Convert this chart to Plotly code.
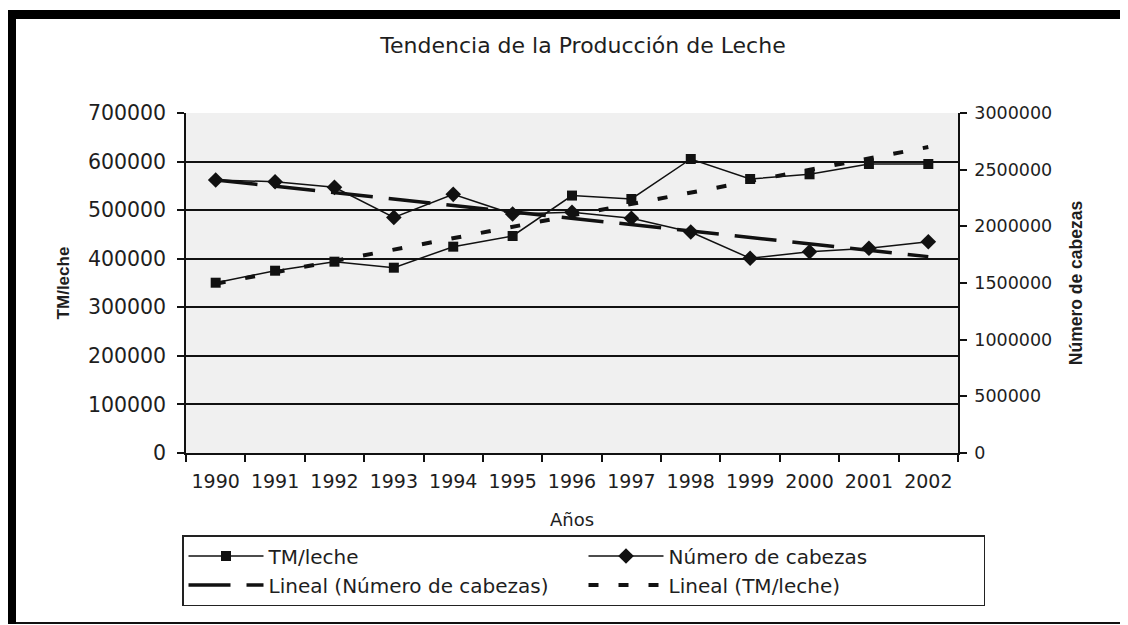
import numpy as np
import plotly.graph_objects as go

# ---- data ----
years = ["1990", "1991", "1992", "1993", "1994", "1995", "1996",
         "1997", "1998", "1999", "2000", "2001", "2002"]
tm_leche = [350600, 375300, 393900, 381500, 424800, 446800, 530000,
            523000, 605300, 564100, 573800, 595000, 595000]
cabezas = [2409000, 2394000, 2344000, 2079000, 2282000, 2109000, 2124000,
           2071000, 1950000, 1718000, 1776000, 1806000, 1864000]

left_ticks = [0, 100000, 200000, 300000, 400000, 500000, 600000, 700000]
right_ticks = [0, 500000, 1000000, 1500000, 2000000, 2500000, 3000000]

# linear trendlines (least squares, like Excel "Lineal")
idx = np.arange(len(years))
tm_fit = np.polyval(np.polyfit(idx, tm_leche, 1), idx)
cab_fit = np.polyval(np.polyfit(idx, cabezas, 1), idx)

TXT = "#1e1e1e"
FONT = "DejaVu Sans"

fig = go.Figure()
fig.add_trace(go.Scatter(
    x=years, y=tm_leche, name="TM/leche", mode="lines+markers",
    line=dict(color="#111", width=1.5),
    marker=dict(symbol="square", size=10, color="#111"),
    yaxis="y"))
fig.add_trace(go.Scatter(
    x=years, y=cabezas, name="Número de cabezas", mode="lines+markers",
    line=dict(color="#111", width=1.5),
    marker=dict(symbol="diamond", size=12, color="#111"),
    yaxis="y2"))
fig.add_trace(go.Scatter(
    x=years, y=cab_fit, name="Lineal (Número de cabezas)", mode="lines",
    line=dict(color="#111", width=3.5, dash="42px,16px"),
    yaxis="y2"))
fig.add_trace(go.Scatter(
    x=years, y=tm_fit, name="Lineal (TM/leche)", mode="lines",
    line=dict(color="#111", width=4, dash="10px,20px"),
    yaxis="y"))

# page body has an 8px margin: lay out in window coords minus 8
OFF = 8
W, H = 1128 - OFF, 625 - OFF
L, R, T, B = 186 - OFF, 958 - OFF, 113 - OFF, 453 - OFF


def px(xw):
    return (xw - OFF - L) / (R - L)


def py(yw):
    return (B - (yw - OFF)) / (B - T)


shapes = [
    # outer frame (thick top and left bars, thin bottom line)
    dict(type="rect", xref="paper", yref="paper", x0=px(8), x1=px(1140),
         y0=py(19), y1=py(10), fillcolor="#000", line=dict(width=0), layer="above"),
    dict(type="rect", xref="paper", yref="paper", x0=px(8), x1=px(16),
         y0=py(624), y1=py(10), fillcolor="#000", line=dict(width=0), layer="above"),
    dict(type="line", xref="paper", yref="paper", x0=px(16), x1=px(1140),
         y0=py(623), y1=py(623), line=dict(color="#111", width=2), layer="above"),
]

fig.update_layout(
    width=W, height=H,
    margin=dict(l=L, r=W - R, t=T, b=H - B, pad=0, autoexpand=False),
    paper_bgcolor="white",
    plot_bgcolor="#f0f0f0",
    font=dict(family=FONT, color=TXT, size=18),
    title=dict(text="Tendencia de la Producción de Leche",
               x=(583 - OFF) / W, xanchor="center", xref="container",
               y=1 - (45 - OFF) / H, yanchor="middle", yref="container",
               font=dict(family=FONT, size=22, color=TXT)),
    xaxis=dict(type="category", tickson="boundaries", ticks="outside",
               range=[-0.5, len(years) - 0.5],
               ticklen=7, tickcolor="#111", tickwidth=1.5, tickangle=0,
               showline=True, linecolor="#111", linewidth=1.5,
               showgrid=False, zeroline=False,
               tickfont=dict(family=FONT, size=19, color=TXT),
               ticklabelstandoff=10,
               title=dict(text="Años", standoff=23,
                          font=dict(family=FONT, size=18, color=TXT))),
    yaxis=dict(range=[0, 700000], tickvals=left_ticks, tickformat="d",
               ticks="outside", ticklen=7, tickcolor="#111", tickwidth=1.5,
               showline=True, linecolor="#111", linewidth=1.5,
               showgrid=True, gridcolor="#111", gridwidth=1.5,
               zeroline=False,
               tickfont=dict(family=FONT, size=20.5, color=TXT),
               ticklabelstandoff=7,
               title=dict(text="<b>TM/leche</b>", standoff=14,
                          font=dict(family="Liberation Sans", size=17, color=TXT))),
    yaxis2=dict(range=[0, 3000000], tickvals=right_ticks, tickformat="d",
                overlaying="y", side="right",
                ticks="outside", ticklen=7, tickcolor="#111", tickwidth=1.5,
                showline=True, linecolor="#111", linewidth=1.5,
                showgrid=False, zeroline=False,
                tickfont=dict(family=FONT, size=17.5, color=TXT),
                ticklabelstandoff=4,
                title=dict(text="<b>Número de cabezas</b>", standoff=19,
                           font=dict(family="Liberation Sans", size=17.5, color=TXT))),
    showlegend=True,
    legend=dict(orientation="h", x=px(182), y=py(535),
                xanchor="left", yanchor="top",
                bgcolor="white", bordercolor="#222", borderwidth=1.5,
                itemwidth=75, entrywidth=310, entrywidthmode="pixels",
                tracegroupgap=0,
                font=dict(family=FONT, size=20, color=TXT)),
    shapes=shapes,
)

fig.write_html("out.html")
